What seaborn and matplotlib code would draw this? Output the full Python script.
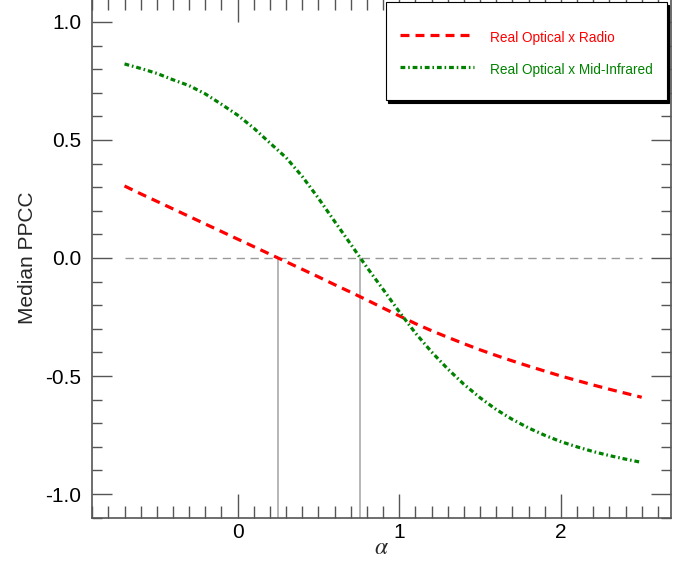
import matplotlib.pyplot as plt
import pandas as pd
import seaborn as sns
from matplotlib.ticker import MultipleLocator

# alpha grid and median PPCC
alpha = [-0.7, -0.6, -0.5, -0.4, -0.3, -0.2, -0.1, 0.0, 0.1, 0.2, 0.3,
         0.4, 0.5, 0.6, 0.7, 0.8, 0.9, 1.0, 1.1, 1.2, 1.3, 1.4, 1.5,
         1.6, 1.7, 1.8, 1.9, 2.0, 2.1, 2.2, 2.3, 2.4, 2.5]
ppcc_radio = [0.305, 0.272, 0.240, 0.208, 0.176, 0.144, 0.112, 0.080,
              0.048, 0.016, -0.016, -0.048, -0.080, -0.113, -0.145,
              -0.178, -0.212, -0.245, -0.278, -0.308, -0.336, -0.363,
              -0.389, -0.413, -0.436, -0.458, -0.479, -0.500, -0.519,
              -0.538, -0.556, -0.573, -0.590]
ppcc_mir = [0.822, 0.803, 0.782, 0.755, 0.730, 0.695, 0.651, 0.605,
            0.550, 0.487, 0.425, 0.345, 0.253, 0.155, 0.058, -0.040,
            -0.133, -0.228, -0.318, -0.398, -0.470, -0.535, -0.592,
            -0.642, -0.684, -0.720, -0.751, -0.778, -0.800, -0.820,
            -0.837, -0.852, -0.866]
zero_alpha = [0.25, 0.76]
labels = ["Real Optical x Radio", "Real Optical x Mid-Infrared"]

RED = "#ff0000"
GREEN = "#008200"


def main() -> None:
    sns.set_theme(style="white")
    plt.rcParams["font.family"] = ["Liberation Sans", "DejaVu Sans"]
    plt.rcParams["mathtext.fontset"] = "stix"

    df = pd.DataFrame({"alpha": alpha, "radio": ppcc_radio, "mir": ppcc_mir})

    fig = plt.figure(figsize=(6.88, 5.63), dpi=100)
    ax = fig.add_axes([0.134, 0.0805, 0.841, 0.9225])

    # zero reference line and alpha markers
    ax.plot([alpha[0], alpha[-1]], [0, 0], color="#999999", lw=1.0,
            ls=(0, (6, 4)), zorder=1)
    for a in zero_alpha:
        ax.plot([a, a], [0, -1.1], color="#aaaaaa", lw=1.2, zorder=1)

    sns.lineplot(data=df, x="alpha", y="radio", color=RED, lw=2.3,
                 linestyle=(0, (2.8, 1.9)), label=labels[0], ax=ax,
                 zorder=3)
    sns.lineplot(data=df, x="alpha", y="mir", color=GREEN, lw=2.3,
                 linestyle=(0, (1.5, 0.9, 0.5, 0.9)), label=labels[1],
                 ax=ax, zorder=3)

    ax.set_xlim(-0.9, 2.68)
    ax.set_ylim(-1.1, 1.1)
    ax.xaxis.set_major_locator(MultipleLocator(1))
    ax.xaxis.set_minor_locator(MultipleLocator(0.1))
    ax.yaxis.set_major_locator(MultipleLocator(0.5))
    ax.yaxis.set_minor_locator(MultipleLocator(0.1))
    ax.tick_params(axis="both", which="both", direction="in", top=True,
                   right=True, bottom=True, left=True, color="#555555",
                   width=1.0, labelsize=15, labelcolor="black")
    ax.tick_params(axis="x", which="major", length=17, pad=4)
    ax.tick_params(axis="x", which="minor", length=8.6)
    ax.tick_params(axis="y", which="major", length=14.4, pad=8)
    ax.tick_params(axis="y", which="minor", length=7.2)
    ax.set_yticks([-1.0, -0.5, 0.0, 0.5, 1.0],
                  ["-1.0", "-0.5", "0.0", "0.5", "1.0"])
    for spine in ax.spines.values():
        spine.set_color("#555555")
        spine.set_linewidth(1.2)

    ax.set_xlabel(r"$\alpha$", fontsize=17, labelpad=-4)
    ax.set_ylabel("Median PPCC", fontsize=15, labelpad=6)

    # blank tiny title only adds a little room above the entries
    leg = ax.legend(loc="upper right", bbox_to_anchor=(1.0, 1.0),
                    frameon=True, fancybox=False, framealpha=1,
                    edgecolor="black", fontsize=9.8, labelcolor="linecolor",
                    handlelength=5.45, handleheight=3.24, handletextpad=1.15,
                    borderpad=1.05, labelspacing=0.0, borderaxespad=0.3,
                    title=" ", title_fontsize=3.5,
                    shadow={"color": "black", "alpha": 1})
    leg.get_frame().set_linewidth(0.8)
    for line in leg.get_lines():
        line.set_ydata([y - 2.2 for y in line.get_ydata()])

    fig.savefig("out.png", dpi=100)
    plt.close(fig)


if __name__ == "__main__":
    main()
